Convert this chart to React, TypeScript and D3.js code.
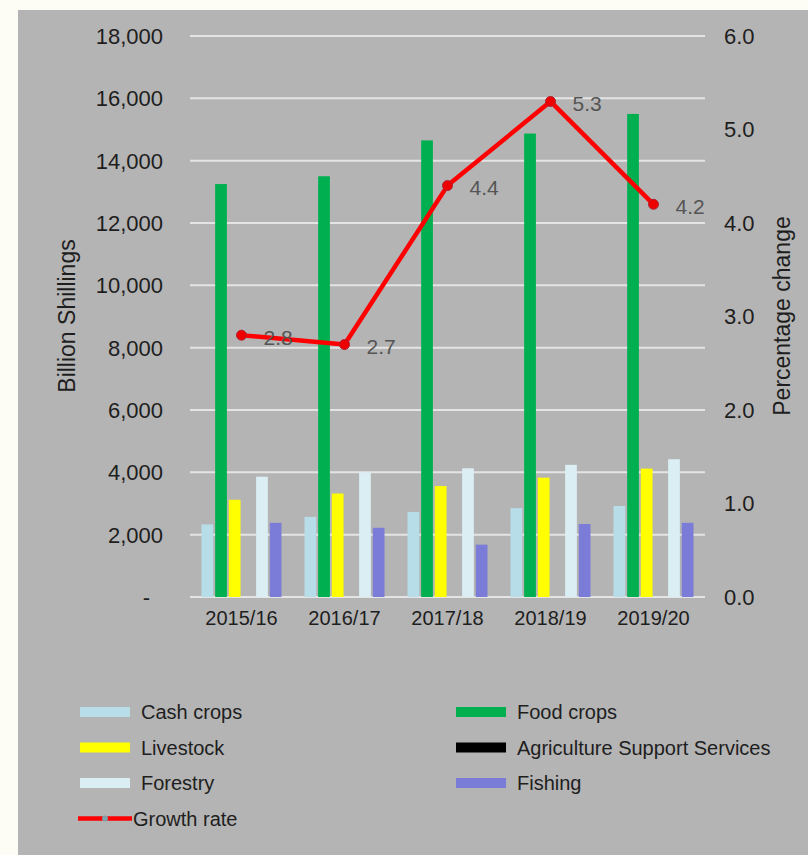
import React from "react";
import * as d3 from "d3";

const categories = ["2015/16", "2016/17", "2017/18", "2018/19", "2019/20"];
const seriesNames = ["Cash crops", "Food crops", "Livestock", "Agriculture Support Services", "Forestry", "Fishing"];
const cashCrops = [2330, 2570, 2730, 2850, 2920];
const foodCrops = [13250, 13500, 14650, 14870, 15500];
const livestock = [3120, 3320, 3560, 3830, 4120];
const agricultureSupport = [0, 0, 0, 0, 0];
const forestry = [3860, 4000, 4130, 4240, 4420];
const fishing = [2380, 2220, 1680, 2340, 2380];
const growthRate = [2.8, 2.7, 4.4, 5.3, 4.2];
const leftTicks = [0, 2000, 4000, 6000, 8000, 10000, 12000, 14000, 16000, 18000];
const rightTicks = [0, 1, 2, 3, 4, 5, 6];

const seriesColors = ["#b7dee8", "#00b050", "#ffff00", "#000000", "#dbeef3", "#7b7bd8"];

const W = 808;
const H = 855;
const FONT = "'Liberation Sans', Arial, sans-serif";

export default function App() {
  const seriesValues = [cashCrops, foodCrops, livestock, agricultureSupport, forestry, fishing];
  const x0 = d3.scaleBand<string>().domain(categories).range([190, 705]).paddingInner(23 / 103).paddingOuter(23 / 206);
  const x1 = d3.scaleBand<string>().domain(seriesNames).range([0, x0.bandwidth()]).paddingInner(0.14).paddingOuter(0);
  const yL = d3.scaleLinear().domain([0, 18000]).range([597, 36]);
  const yR = d3.scaleLinear().domain([0, 6]).range([597, 36]);
  const fmtL = (v: number) => (v === 0 ? "-" : d3.format(",")(v));
  const center = (c: string) => (x0(c) as number) + x0.bandwidth() / 2;

  const line = d3
    .line<number>()
    .x((_, i) => center(categories[i]))
    .y((d) => yR(d));

  const legendItems = [
    { name: "Cash crops", color: seriesColors[0], col: 0, row: 0 },
    { name: "Food crops", color: seriesColors[1], col: 1, row: 0 },
    { name: "Livestock", color: seriesColors[2], col: 0, row: 1 },
    { name: "Agriculture Support Services", color: seriesColors[3], col: 1, row: 1 },
    { name: "Forestry", color: seriesColors[4], col: 0, row: 2 },
    { name: "Fishing", color: seriesColors[5], col: 1, row: 2 },
  ];
  const legX = [80, 456];
  const legY = (r: number) => 712 + r * 35.5;

  return (
    <svg width={W} height={H} style={{ position: "absolute", left: 0, top: 0 }} fontFamily={FONT}>
      <rect x={0} y={0} width={W} height={H} fill="#fdfdf6" />
      <rect x={18} y={10} width={W - 18} height={H - 10} fill="#b4b4b4" />

      {leftTicks.map((t) => (
        <line key={"g" + t} x1={190} x2={705} y1={yL(t)} y2={yL(t)} stroke="#e4e4e4" strokeWidth={2} />
      ))}

      {leftTicks.map((t) => (
        <text key={"l" + t} x={t === 0 ? 150 : 163} y={yL(t)} dy="0.36em" textAnchor="end" fontSize={22} fill="#1e1e1e">
          {fmtL(t)}
        </text>
      ))}
      {rightTicks.map((t) => (
        <text key={"r" + t} x={724} y={yR(t)} dy="0.36em" textAnchor="start" fontSize={22} fill="#1e1e1e">
          {d3.format(".1f")(t)}
        </text>
      ))}

      <text transform={`translate(75,316) rotate(-90)`} textAnchor="middle" fontSize={23} fill="#1e1e1e">
        Billion Shillings
      </text>
      <text transform={`translate(790,316) rotate(-90)`} textAnchor="middle" fontSize={23} fill="#1e1e1e">
        Percentage change
      </text>

      {categories.map((c, ci) => (
        <g key={c} transform={`translate(${x0(c)},0)`}>
          {seriesNames.map((s, si) => {
            const v = seriesValues[si][ci];
            return (
              <rect
                key={s}
                x={x1(s)}
                y={yL(v)}
                width={x1.bandwidth()}
                height={yL(0) - yL(v)}
                fill={seriesColors[si]}
              />
            );
          })}
        </g>
      ))}

      {categories.map((c) => (
        <text key={"c" + c} x={center(c)} y={625} textAnchor="middle" fontSize={20} fill="#1e1e1e">
          {c}
        </text>
      ))}

      <path d={line(growthRate) || ""} fill="none" stroke="#ff0000" strokeWidth={4.5} strokeLinejoin="round" />
      {growthRate.map((g, i) => (
        <circle key={"m" + i} cx={center(categories[i])} cy={yR(g)} r={5} fill="#ee0000" stroke="#b02030" strokeWidth={1} />
      ))}
      {growthRate.map((g, i) => (
        <text key={"d" + i} x={center(categories[i]) + 22} y={yR(g) + 2} dy="0.36em" fontSize={21} fill="#555555">
          {d3.format(".1f")(g)}
        </text>
      ))}

      {legendItems.map((it) => (
        <g key={it.name}>
          <rect x={legX[it.col]} y={legY(it.row) - 5} width={50} height={10} fill={it.color} />
          <text x={legX[it.col] + 61} y={legY(it.row)} dy="0.36em" fontSize={20} fill="#1e1e1e">
            {it.name}
          </text>
        </g>
      ))}
      <g>
        <line x1={78} x2={132} y1={legY(3)} y2={legY(3)} stroke="#ff0000" strokeWidth={4.5} />
        <circle cx={105} cy={legY(3)} r={3} fill="#7fa0a8" />
        <text x={133} y={legY(3)} dy="0.36em" fontSize={20} fill="#1e1e1e">
          Growth rate
        </text>
      </g>
    </svg>
  );
}
